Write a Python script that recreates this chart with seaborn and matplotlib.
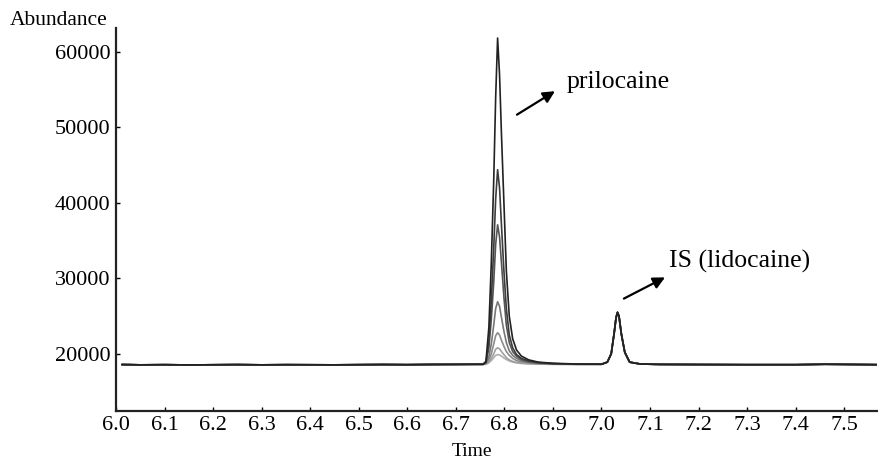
import pandas as pd
import numpy as np
import matplotlib
matplotlib.use("Agg")
import matplotlib.pyplot as plt
import seaborn as sns

# ---- data ----
# shared baseline before the prilocaine peak
left_time = [6.012, 6.05, 6.10, 6.15, 6.20, 6.25, 6.30, 6.35, 6.40, 6.45, 6.50, 6.55, 6.60, 6.65, 6.70, 6.73]
left_abund = [18580, 18540, 18560, 18530, 18550, 18570, 18540, 18560, 18550, 18540, 18560, 18580, 18560, 18590, 18600, 18610]

# prilocaine peak region, one list per calibration level
pril_time = [6.756, 6.762, 6.768, 6.773, 6.778, 6.782, 6.786, 6.790, 6.794, 6.799,
             6.804, 6.810, 6.817, 6.825, 6.835, 6.85, 6.87, 6.90, 6.95]
pril_1 = [18620, 19000, 23500, 32000, 43000, 54000, 61850, 57000, 49000, 40000,
          31000, 25000, 22000, 20500, 19700, 19200, 18900, 18750, 18650]
pril_2 = [18620, 18900, 21500, 27000, 34000, 40500, 44400, 42000, 37000, 31000,
          26000, 22500, 20800, 19900, 19400, 19050, 18850, 18700, 18630]
pril_3 = [18620, 18850, 20800, 24500, 29500, 34500, 37100, 35500, 32000, 27500,
          23800, 21500, 20300, 19700, 19250, 18950, 18800, 18700, 18630]
pril_4 = [18600, 18750, 19600, 21300, 23800, 26000, 26900, 26300, 24800, 23000,
          21500, 20400, 19800, 19400, 19100, 18900, 18750, 18680, 18620]
pril_5 = [18600, 18700, 19200, 20000, 21300, 22400, 22800, 22500, 21800, 21000,
          20300, 19800, 19400, 19100, 18950, 18800, 18700, 18650, 18610]
pril_6 = [18600, 18650, 18950, 19400, 20000, 20600, 20800, 20650, 20300, 19900,
          19500, 19200, 19000, 18850, 18780, 18700, 18650, 18620, 18600]
pril_7 = [18600, 18620, 18800, 19100, 19500, 19800, 19900, 19850, 19700, 19450,
          19250, 19050, 18900, 18800, 18720, 18670, 18630, 18610, 18600]

# shared IS (lidocaine) peak and baseline to the end
right_time = [7.00, 7.012, 7.020, 7.026, 7.030, 7.033, 7.036, 7.041, 7.048, 7.058,
              7.08, 7.12, 7.20, 7.30, 7.40, 7.46, 7.50, 7.57]
right_abund = [18620, 18900, 20000, 22700, 24800, 25500, 25000, 22600, 20200, 18900,
               18650, 18600, 18580, 18560, 18560, 18620, 18600, 18560]

levels = [pril_7, pril_6, pril_5, pril_4, pril_3, pril_2, pril_1]
level_names = ["L7", "L6", "L5", "L4", "L3", "L2", "L1"]
line_colors = ["#b0b0b0", "#a0a0a0", "#8c8c8c", "#777777", "#555555", "#3c3c3c", "#222222"]

frames = []
for name, vals in zip(level_names, levels):
    frames.append(pd.DataFrame({
        "time": left_time + pril_time + right_time,
        "abundance": left_abund + vals + right_abund,
        "trace": name,
    }))
df = pd.concat(frames, ignore_index=True)

# ---- plot ----
sns.set_style("ticks")
plt.rcParams["font.family"] = ["Liberation Serif", "DejaVu Serif"]
plt.rcParams["text.color"] = "black"
plt.rcParams["xtick.color"] = "black"
plt.rcParams["ytick.color"] = "black"

fig = plt.figure(figsize=(8.79, 4.59), dpi=100)
ax = fig.add_axes([0.132, 0.105, 0.866, 0.834])

sns.lineplot(data=df, x="time", y="abundance", hue="trace", hue_order=level_names,
             palette=line_colors, estimator=None, sort=False, legend=False,
             linewidth=1.2, ax=ax)

ax.set_xlim(6.0, 7.568)
ax.set_ylim(12450, 63180)
ax.set_xticks(np.round(np.arange(6.0, 7.51, 0.1), 1))
ax.set_xticklabels([f"{v:.1f}" for v in np.arange(6.0, 7.51, 0.1)])
ax.set_yticks([20000, 30000, 40000, 50000, 60000])
ax.tick_params(direction="in", length=3, width=1, labelsize=16, pad=4)
ax.set_xlabel("")
ax.set_ylabel("")
sns.despine(ax=ax)
for side in ["left", "bottom"]:
    ax.spines[side].set_linewidth(1.6)
    ax.spines[side].set_color("#222222")

# peak labels
ax.annotate("", xy=(6.909, 55000), xytext=(6.821, 51500),
            arrowprops=dict(arrowstyle="-|>,head_length=0.7,head_width=0.35",
                            color="black", lw=1.6))
ax.text(6.928, 56000, "prilocaine", fontsize=18.5, va="center", ha="left")
ax.annotate("", xy=(7.136, 30300), xytext=(7.041, 27150),
            arrowprops=dict(arrowstyle="-|>,head_length=0.7,head_width=0.35",
                            color="black", lw=1.6))
ax.text(7.140, 32200, "IS (lidocaine)", fontsize=18.5, va="center", ha="left")

fig.text(0.011, 0.956, "Abundance", fontsize=15.5, va="center", ha="left")
fig.text(0.537, 0.017, "Time", fontsize=14, va="center", ha="center")

fig.savefig("out.png", dpi=100)
